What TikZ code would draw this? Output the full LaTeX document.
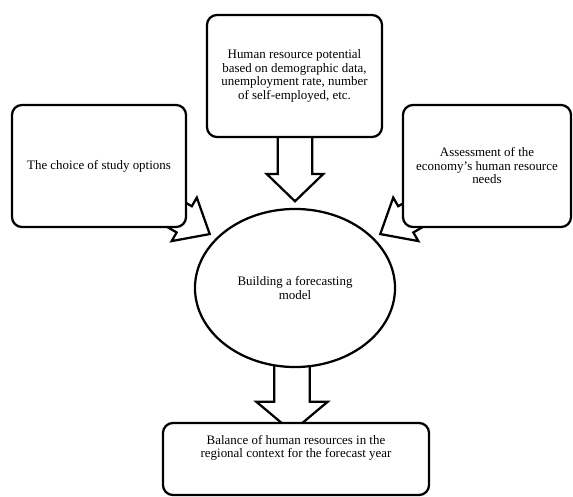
\documentclass[tikz,border=0pt]{standalone}
\usepackage{fontspec}
\setmainfont{Liberation Serif}
\usetikzlibrary{shapes.geometric,shapes.arrows,calc,backgrounds}

\begin{document}
\begin{tikzpicture}[x=0.025cm,y=-0.025cm,line width=1.6pt,
    box/.style={shape=rectangle,draw=black,fill=white,rounded corners=0.25cm,inner sep=0pt,align=center,minimum height=3.05cm,font=\fontsize{9.2}{9.6}\selectfont},
    bigarrow/.style={shape=single arrow,draw=black,fill=white,line width=1.6pt,inner xsep=0pt,line join=miter}]
              \useasboundingbox (0,0) rectangle (573,497);

              \node[box,minimum width=4.35cm] (1) at (99,166) {The choice of study options};
              \node[box,minimum width=4.375cm] (2) at (294.5,76) {Human resource potential\\ based on demographic data,\\ unemployment rate, number\\ of self-employed, etc.};
              \node[box,minimum width=4.2cm] (3) at (487,166) {Assessment of the\\ economy's human resource\\ needs};
              \node[shape=ellipse,draw=black,fill=white,inner sep=0pt,minimum width=5cm,minimum height=3.95cm,align=center,font=\fontsize{9.2}{9.6}\selectfont] (4) at (295,288) {Building a forecasting\\ model};
              \node[box,minimum width=6.65cm,minimum height=1.8cm] (5) at (296,459) {\parbox[t][1.8cm][t]{6.6cm}{\centering\vspace*{8.6pt}Balance of human resources in the\\ regional context for the forecast year}};

              \begin{scope}[on background layer]
                \node[bigarrow,rotate=-90,minimum height=2cm,inner ysep=0.4cm,single arrow head extend=0.275cm,single arrow tip angle=92,anchor=tip] (a2) at ($(4.north)+(0,-5)$) {};
                \node[bigarrow,rotate=-30,minimum height=1.75cm,inner ysep=0.35cm,single arrow head extend=0.25cm,single arrow tip angle=81,anchor=tip] (a1) at ($(4.145)+(-8,0)$) {};
                \node[bigarrow,rotate=-150,minimum height=1.75cm,inner ysep=0.35cm,single arrow head extend=0.25cm,single arrow tip angle=81,anchor=tip] (a3) at ($(4.35)+(8,0)$) {};
                \node[bigarrow,rotate=-90,minimum height=2.05cm,inner ysep=0.4125cm,single arrow head extend=0.45cm,single arrow tip angle=100,anchor=tip] (a4) at ($(4.south)+(-3,65)$) {};
              \end{scope}
          \end{tikzpicture}
\end{document}
